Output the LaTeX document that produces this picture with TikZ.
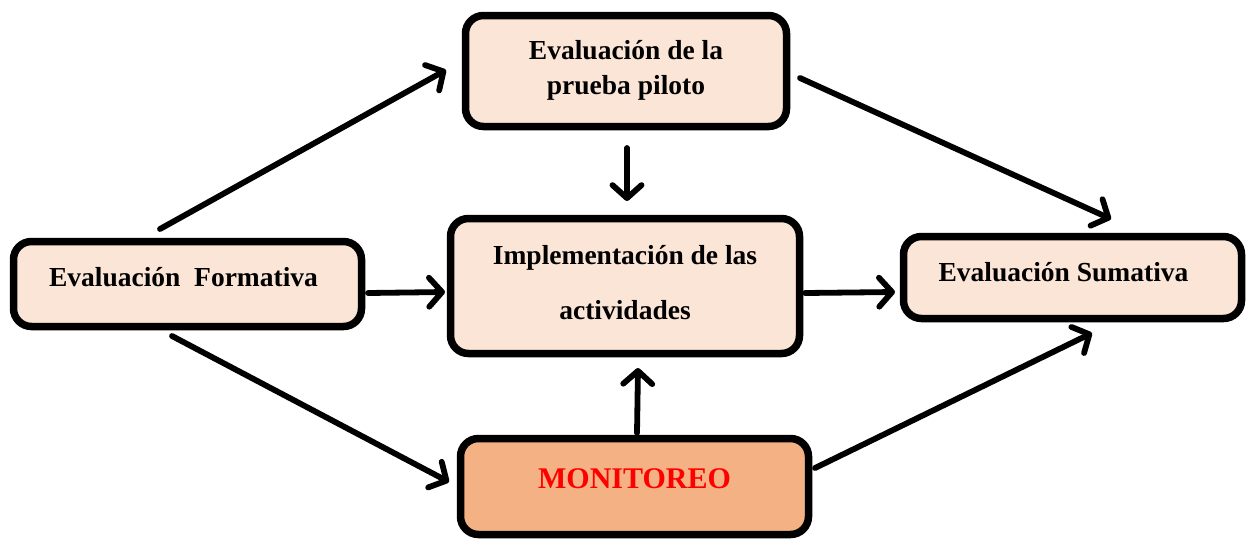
\documentclass[tikz,border=0pt]{standalone}
\usepackage{fontspec}
\setmainfont{Liberation Serif}
\usetikzlibrary{arrows.meta,calc}
\definecolor{peach}{HTML}{FBE5D6}
\definecolor{peachdark}{HTML}{F4B183}
\definecolor{monred}{HTML}{FF0000}
\begin{document}
\begin{tikzpicture}[x=1pt,y=-1pt,
  box/.style={draw=black, line width=7.5pt, rounded corners=18pt, fill=peach, inner sep=0pt, rectangle},
  lbl/.style={font=\bfseries\fontsize{27.5}{35}\selectfont, align=center, inner sep=0pt},
  conn/.style={line width=5.8pt, line cap=round, line join=round, -{Straight Barb[length=13pt,width=29pt,line cap=round,line join=round]}}]
\useasboundingbox (0,0) rectangle (1246,539);
% boxes
\node[box, minimum width=321pt, minimum height=111pt] (pil) at (626,71) {};
\node[box, minimum width=348pt, minimum height=85pt] (form) at (187.5,284) {};
\node[box, minimum width=349pt, minimum height=135pt] (imp) at (625,286) {};
\node[box, minimum width=338pt, minimum height=82pt] (sum) at (1072.5,277.5) {};
\node[box, fill=peachdark, minimum width=348pt, minimum height=96pt] (mon) at (634.5,486.5) {};
% labels
\node[lbl] (tpil) at ($(pil.center)+(0,-1)$) {Evaluación de la\\prueba piloto};
\node[lbl] (tform) at ($(form.center)+(-4,-7)$) {Evaluación\ \ Formativa};
\node[lbl, font=\bfseries\fontsize{27.5}{55}\selectfont] (timp) at ($(imp.center)+(0,-3)$) {Implementación de las\\actividades};
\node[lbl] (tsum) at ($(sum.center)+(-9,-5)$) {Evaluación Sumativa};
\node[lbl, text=monred, font=\bfseries\fontsize{30}{36}\selectfont] (tmon) at ($(mon.center)+(0,-8)$) {MONITOREO};
% connectors
\draw[conn] ($(form.center)+(-27.5,-55)$) -- ($(pil.center)+(-180,-1)$);
\draw[conn] ($(pil.center)+(174,7)$) -- ($(sum.center)+(38.5,-58.5)$);
\draw[conn] ($(pil.center)+(1,77)$) -- ($(imp.center)+(2,-85)$);
\draw[conn] ($(form.center)+(180.5,9)$) -- ($(imp.center)+(-180,6)$);
\draw[conn] ($(imp.center)+(180,7)$) -- ($(sum.center)+(-177.5,14.5)$);
\draw[conn] ($(mon.center)+(2.5,-53.5)$) -- ($(imp.center)+(13,82)$);
\draw[conn] ($(form.center)+(-15.5,52)$) -- ($(mon.center)+(-185.5,-4.5)$);
\draw[conn] ($(mon.center)+(180.5,-18.5)$) -- ($(sum.center)+(19.5,55.5)$);
\end{tikzpicture}
\end{document}
